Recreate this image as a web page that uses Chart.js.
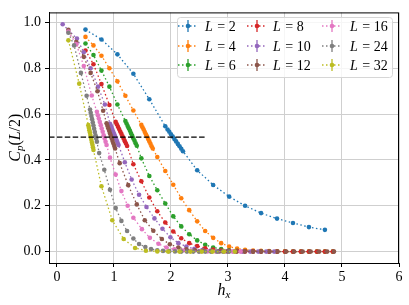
<!DOCTYPE html>
<html>
<head>
<meta charset="utf-8">
<script src="https://cdn.jsdelivr.net/npm/chart.js@4.4.1/dist/chart.umd.min.js"></script>
<style>
  html, body { margin: 0; padding: 0; background: #fff; }
  #wrap { width: 409px; height: 305px; }
</style>
</head>
<body>
<div id="wrap"><canvas id="myChart" width="409" height="305"></canvas></div>
<script>
// system sizes and their colours (matplotlib tab10)
const sizes = [2, 4, 6, 8, 10, 12, 16, 24, 32];
const colors = ['#1f77b4', '#ff7f0e', '#2ca02c', '#d62728', '#9467bd',
                '#8c564b', '#e377c2', '#7f7f7f', '#bcbd22'];

// h_x values and C_p(L/2) for each L
const hx_L2 = [0.50, 0.78, 1.06, 1.34, 1.62, 1.90, 1.94, 1.97, 2.00, 2.03, 2.06, 2.09, 2.12, 2.15, 2.18, 2.21,
               2.46, 2.74, 3.02, 3.30, 3.58, 3.86, 4.14, 4.42, 4.70];
const cp_L2 = [0.969, 0.926, 0.861, 0.776, 0.665, 0.547, 0.533, 0.523, 0.512, 0.502, 0.491, 0.481, 0.470, 0.460, 0.449, 0.438,
               0.355, 0.291, 0.240, 0.200, 0.168, 0.144, 0.125, 0.107, 0.095];

const hx_L4 = [0.50, 0.64, 0.78, 0.92, 1.06, 1.20, 1.34, 1.48, 1.50, 1.52, 1.54, 1.56, 1.58, 1.60, 1.62, 1.64, 1.66, 1.68,
               1.76, 1.90, 2.04, 2.18, 2.32, 2.46, 2.60, 2.74, 2.88, 3.02, 3.16, 3.30, 3.44, 3.58, 3.72, 3.86, 4.00,
               4.14, 4.28, 4.42, 4.56, 4.70, 4.84];
const cp_L4 = [0.937, 0.900, 0.855, 0.800, 0.743, 0.680, 0.616, 0.553, 0.543, 0.533, 0.522, 0.512, 0.502, 0.491, 0.481, 0.471, 0.460, 0.450,
               0.413, 0.352, 0.292, 0.233, 0.181, 0.132, 0.090, 0.060, 0.037, 0.022, 0.013, 0.008, 0.005, 0.003, 0.002, 0.001, 0.001,
               0, 0, 0, 0, 0, 0];

const hx_L6 = [0.50, 0.64, 0.78, 0.92, 1.06, 1.20, 1.22, 1.24, 1.26, 1.28, 1.30, 1.32, 1.34, 1.36, 1.38, 1.40,
               1.48, 1.62, 1.76, 1.90, 2.04, 2.18, 2.32, 2.46, 2.60, 2.74, 2.88, 3.02, 3.16, 3.30, 3.44, 3.58, 3.72,
               3.86, 4.00, 4.14, 4.28, 4.42, 4.56, 4.70, 4.84];
const cp_L6 = [0.908, 0.858, 0.790, 0.720, 0.642, 0.570, 0.559, 0.548, 0.538, 0.527, 0.516, 0.505, 0.494, 0.484, 0.473, 0.462,
               0.407, 0.330, 0.268, 0.210, 0.154, 0.110, 0.076, 0.049, 0.030, 0.018, 0.011, 0.006, 0.003, 0.002, 0.001, 0.001, 0,
               0, 0, 0, 0, 0, 0, 0, 0];

const hx_L8 = [0.50, 0.64, 0.78, 0.92, 1.03, 1.05, 1.07, 1.09, 1.11, 1.13, 1.15, 1.17, 1.19, 1.21, 1.23,
               1.34, 1.48, 1.62, 1.76, 1.90, 2.04, 2.18, 2.32, 2.46, 2.60, 2.74, 2.88, 3.02, 3.16, 3.30, 3.44,
               3.58, 3.72, 3.86, 4.00, 4.14, 4.28, 4.42, 4.56, 4.70, 4.84];
const cp_L8 = [0.878, 0.818, 0.731, 0.640, 0.566, 0.556, 0.545, 0.535, 0.524, 0.514, 0.503, 0.493, 0.482, 0.472, 0.461,
               0.381, 0.307, 0.236, 0.176, 0.127, 0.088, 0.058, 0.037, 0.024, 0.015, 0.009, 0.005, 0.003, 0.002, 0.001, 0.001,
               0, 0, 0, 0, 0, 0, 0, 0, 0, 0];

const hx_L10 = [0.10, 0.35, 0.47, 0.59, 0.72, 0.84, 0.93, 0.945, 0.96, 0.975, 0.99, 1.005, 1.02, 1.035, 1.05, 1.065, 1.08,
                1.19, 1.31, 1.44, 1.57, 1.71, 1.85, 1.99, 2.13, 2.27, 2.41, 2.55, 2.69, 2.83, 2.97, 3.11, 3.25,
                3.39, 3.53, 3.67, 3.81];
const cp_L10 = [0.992, 0.930, 0.870, 0.800, 0.720, 0.642, 0.558, 0.549, 0.540, 0.530, 0.521, 0.512, 0.502, 0.493, 0.484, 0.474, 0.465,
                0.390, 0.315, 0.248, 0.195, 0.145, 0.100, 0.063, 0.037, 0.022, 0.012, 0.007, 0.004, 0.002, 0.001, 0.001, 0,
                0, 0, 0, 0];

const hx_L12 = [0.20, 0.34, 0.47, 0.59, 0.71, 0.81, 0.87, 0.885, 0.90, 0.915, 0.93, 0.945, 0.96, 0.975, 0.99, 1.005, 1.02,
                1.10, 1.25, 1.40, 1.54, 1.69, 1.84, 1.98, 2.13, 2.27, 2.42, 2.56, 2.71, 2.85, 3.00, 3.15, 3.29,
                3.44, 3.58, 3.73, 3.87, 4.02, 4.16, 4.31, 4.45, 4.60, 4.74, 4.86];
const cp_L12 = [0.968, 0.915, 0.850, 0.780, 0.700, 0.615, 0.560, 0.549, 0.538, 0.527, 0.516, 0.505, 0.494, 0.483, 0.472, 0.461, 0.450,
                0.386, 0.290, 0.206, 0.137, 0.091, 0.055, 0.032, 0.018, 0.010, 0.006, 0.003, 0.002, 0.001, 0.001, 0, 0,
                0, 0, 0, 0, 0, 0, 0, 0, 0, 0, 0];

const hx_L16 = [0.20, 0.34, 0.47, 0.61, 0.70, 0.717, 0.734, 0.751, 0.768, 0.785, 0.802, 0.819, 0.836, 0.853, 0.87,
                0.93, 1.03, 1.13, 1.24, 1.34, 1.49, 1.63, 1.78, 1.92, 2.06, 2.21, 2.35, 2.50, 2.64, 2.79, 2.93, 3.08, 3.22];
const cp_L16 = [0.960, 0.905, 0.810, 0.681, 0.610, 0.595, 0.581, 0.566, 0.552, 0.537, 0.523, 0.508, 0.494, 0.479, 0.465,
                0.410, 0.336, 0.264, 0.200, 0.148, 0.098, 0.060, 0.034, 0.018, 0.010, 0.005, 0.003, 0.001, 0.001, 0, 0, 0, 0];

const hx_L24 = [0.20, 0.30, 0.42, 0.52, 0.58, 0.592, 0.604, 0.616, 0.628, 0.64, 0.652, 0.664, 0.676, 0.688, 0.70,
                0.74, 0.83, 0.93, 1.03, 1.13, 1.23, 1.34, 1.44, 1.55, 1.65, 1.76, 1.86, 1.97, 2.07, 2.18, 2.28,
                2.39, 2.49, 2.60, 2.70, 2.81, 2.91, 3.02];
const cp_L24 = [0.955, 0.900, 0.780, 0.680, 0.620, 0.606, 0.592, 0.578, 0.564, 0.550, 0.536, 0.522, 0.508, 0.494, 0.480,
                0.430, 0.357, 0.270, 0.190, 0.134, 0.090, 0.057, 0.033, 0.020, 0.011, 0.006, 0.003, 0.002, 0.001, 0, 0,
                0, 0, 0, 0, 0, 0, 0];

const hx_L32 = [0.20, 0.39, 0.55, 0.559, 0.568, 0.577, 0.586, 0.595, 0.604, 0.613, 0.622, 0.631, 0.64,
                0.78, 0.97, 1.17, 1.37, 1.56, 1.76, 1.95, 2.15, 2.34, 2.54, 2.73, 2.93, 3.12];
const cp_L32 = [0.922, 0.733, 0.552, 0.541, 0.530, 0.520, 0.509, 0.498, 0.487, 0.476, 0.466, 0.455, 0.444,
                0.285, 0.137, 0.055, 0.016, 0.004, 0.001, 0, 0, 0, 0, 0, 0, 0];

const hxAll = [hx_L2, hx_L4, hx_L6, hx_L8, hx_L10, hx_L12, hx_L16, hx_L24, hx_L32];
const cpAll = [cp_L2, cp_L4, cp_L6, cp_L8, cp_L10, cp_L12, cp_L16, cp_L24, cp_L32];

// dashed reference line C_p = 0.5
const refLevel = 0.5;
const refEnd = 2.63;

const xMin = -0.14, xMax = 6;
const yMin = -0.0497, yMax = 1.044;
const xTicks = [0, 1, 2, 3, 4, 5, 6];
const yTicks = [0.0, 0.2, 0.4, 0.6, 0.8, 1.0];

const SERIF = '"Liberation Serif", "DejaVu Serif", serif';

// draw a row of text pieces (italic / subscript) centred on x
function drawRich(ctx, parts, x, y) {
    const fontOf = p => (p.italic ? 'italic ' : '') + p.size + 'px ' + SERIF;
    let w = 0;
    parts.forEach(p => { ctx.font = fontOf(p); w += ctx.measureText(p.t).width; });
    let cx = x - w / 2;
    ctx.textAlign = 'left';
    ctx.textBaseline = 'alphabetic';
    parts.forEach(p => {
        ctx.font = fontOf(p);
        ctx.fillText(p.t, cx, y + (p.dy || 0));
        cx += ctx.measureText(p.t).width;
    });
}

function legendMarker(ctx, cx, cy, color) {
    ctx.save();
    ctx.strokeStyle = color;
    ctx.lineWidth = 1.3;
    ctx.setLineDash([1.5, 2.5]);
    ctx.beginPath();
    ctx.moveTo(cx - 10, cy);
    ctx.lineTo(cx + 10, cy);
    ctx.stroke();
    ctx.setLineDash([]);
    ctx.beginPath();
    ctx.moveTo(cx, cy - 6);
    ctx.lineTo(cx, cy + 6);
    ctx.stroke();
    ctx.fillStyle = color;
    ctx.beginPath();
    ctx.arc(cx, cy, 2.3, 0, Math.PI * 2);
    ctx.fill();
    ctx.restore();
}

const decorPlugin = {
    id: 'decor',
    afterDraw(chart) {
        const ctx = chart.ctx;
        const a = chart.chartArea;

        // frame
        ctx.save();
        ctx.strokeStyle = '#000';
        ctx.lineWidth = 1;
        ctx.strokeRect(a.left + 0.5, a.top + 0.5, a.right - a.left - 1, a.bottom - a.top);
        ctx.restore();

        // legend box
        ctx.save();
        const bx = 177, by = 17, bw = 215, bh = 60, r = 3;
        ctx.beginPath();
        ctx.roundRect(bx + 0.5, by + 0.5, bw, bh, r);
        ctx.fillStyle = 'rgba(255,255,255,0.8)';
        ctx.fill();
        ctx.strokeStyle = '#d6d6d6';
        ctx.lineWidth = 1;
        ctx.stroke();

        const markerX = [188, 257, 332];
        const textX = [205, 273, 350];
        const rowY = [26, 46, 65];
        ctx.fillStyle = '#000';
        sizes.forEach((L, i) => {
            const col = Math.floor(i / 3), row = i % 3;
            legendMarker(ctx, markerX[col], rowY[row], colors[i]);
            ctx.fillStyle = '#000';
            ctx.textBaseline = 'middle';
            ctx.textAlign = 'left';
            ctx.font = 'italic 14px ' + SERIF;
            ctx.fillText('L', textX[col], rowY[row] + 1);
            const lw = ctx.measureText('L').width;
            ctx.font = '14px ' + SERIF;
            ctx.fillText(' = ' + L, textX[col] + lw + 1, rowY[row] + 1);
        });
        ctx.restore();

        // axis titles
        ctx.save();
        ctx.fillStyle = '#000';
        drawRich(ctx, [
            { t: 'h', italic: true, size: 16 },
            { t: 'x', italic: true, size: 11, dy: 3 }
        ], (a.left + a.right) / 2, 295);
        ctx.translate(20, (a.top + a.bottom) / 2);
        ctx.rotate(-Math.PI / 2);
        drawRich(ctx, [
            { t: 'C', italic: true, size: 16 },
            { t: 'p', italic: true, size: 11, dy: 3 },
            { t: '(', size: 16 },
            { t: 'L', italic: true, size: 16 },
            { t: '/2)', size: 16 }
        ], 0, 0);
        ctx.restore();
    }
};

const datasets = sizes.map((L, i) => ({
    label: 'L = ' + L,
    data: hxAll[i].map((x, k) => ({ x: x, y: cpAll[i][k] })),
    borderColor: colors[i],
    backgroundColor: colors[i],
    borderWidth: 1.3,
    borderDash: [1.5, 2.5],
    pointRadius: 2.3,
    pointBorderWidth: 0,
    pointBackgroundColor: colors[i],
    tension: 0,
    fill: false,
    order: sizes.length - i
}));

datasets.push({
    label: 'threshold',
    data: [{ x: xMin, y: refLevel }, { x: refEnd, y: refLevel }],
    borderColor: '#000',
    borderWidth: 1.3,
    borderDash: [5.5, 2.4],
    pointRadius: 0,
    fill: false,
    order: -1
});

const tickFont = { family: SERIF, size: 14 };

new Chart(document.getElementById('myChart'), {
    type: 'line',
    data: { datasets: datasets },
    options: {
        responsive: false,
        animation: false,
        devicePixelRatio: 1,
        layout: { padding: { top: 9, right: 10, left: 0, bottom: 0 } },
        plugins: {
            legend: { display: false },
            tooltip: { enabled: false }
        },
        scales: {
            x: {
                type: 'linear',
                min: xMin,
                max: xMax,
                afterBuildTicks: s => { s.ticks = xTicks.map(v => ({ value: v })); },
                afterFit: s => { s.height = 42; },
                ticks: { font: tickFont, color: '#000', padding: 2, maxRotation: 0, callback: v => String(v) },
                grid: { color: '#cfcfcf', lineWidth: 1, tickColor: '#000', tickLength: 4 },
                border: { color: '#000', width: 1 }
            },
            y: {
                type: 'linear',
                min: yMin,
                max: yMax,
                afterBuildTicks: s => { s.ticks = yTicks.map(v => ({ value: v })); },
                afterFit: s => { s.width = 49; },
                ticks: { font: tickFont, color: '#000', padding: 4, callback: v => v.toFixed(1) },
                grid: { color: '#cfcfcf', lineWidth: 1, tickColor: '#000', tickLength: 4 },
                border: { color: '#000', width: 1 }
            }
        }
    },
    plugins: [decorPlugin]
});
</script>
</body>
</html>
